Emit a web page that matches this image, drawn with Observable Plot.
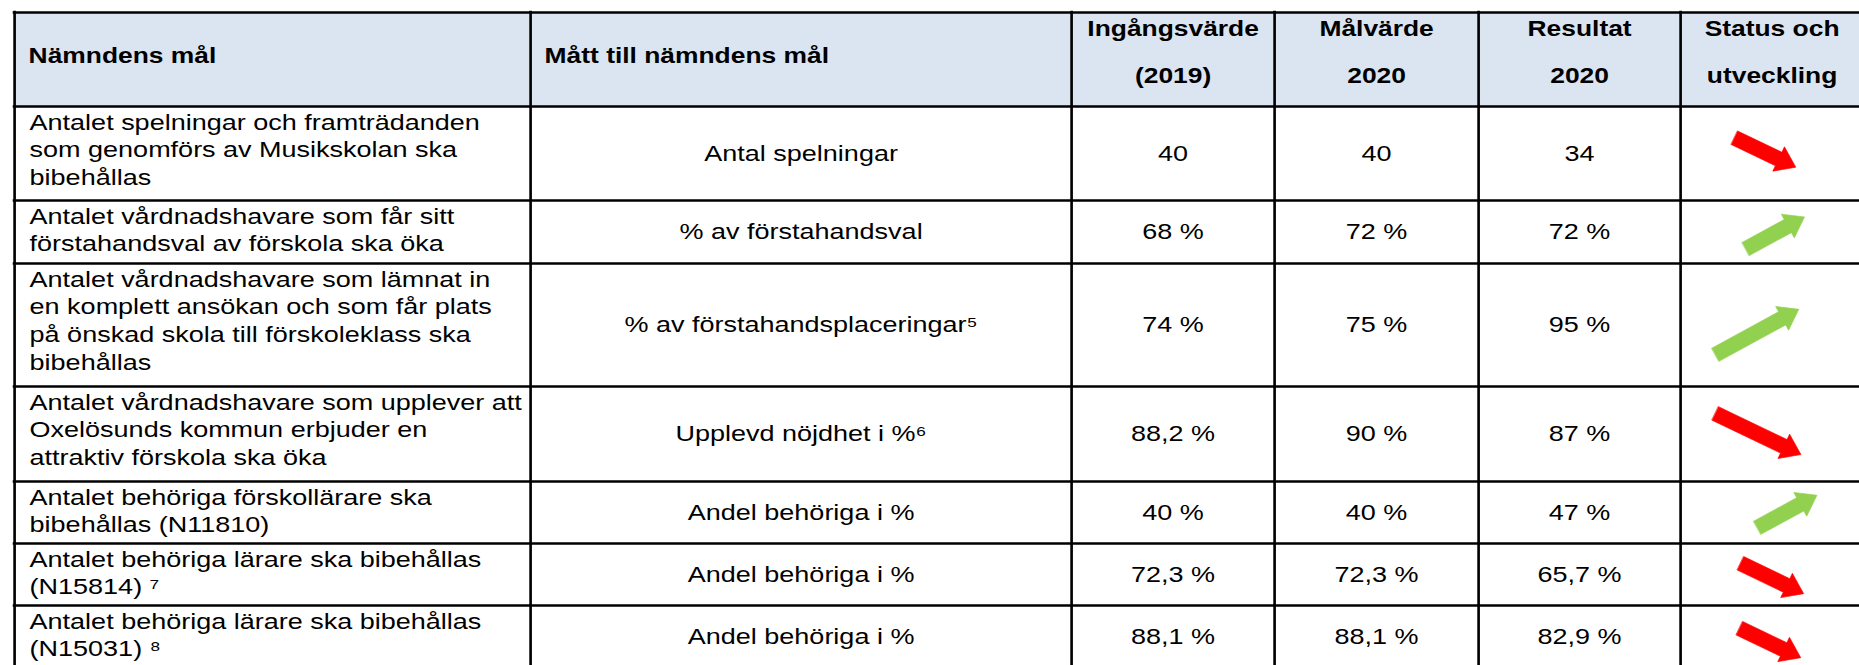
<!DOCTYPE html>
<html>
<head>
<meta charset="utf-8">
<script src="https://cdn.jsdelivr.net/npm/d3@7"></script>
<script src="https://cdn.jsdelivr.net/npm/@observablehq/plot@0.6"></script>
<style>
  html, body { margin: 0; padding: 0; background: #fff; overflow: hidden; }
</style>
</head>
<body>
<div id="chart"></div>
<script>
// ---------- DATA ----------
const headers = [
  "Nämndens mål",
  "Mått till nämndens mål",
  "Ingångsvärde\n(2019)",
  "Målvärde\n2020",
  "Resultat\n2020",
  "Status och\nutveckling"
];
const goals = [
  "Antalet spelningar och framträdanden\nsom genomförs av Musikskolan ska\nbibehållas",
  "Antalet vårdnadshavare som får sitt\nförstahandsval av förskola ska öka",
  "Antalet vårdnadshavare som lämnat in\nen komplett ansökan och som får plats\npå önskad skola till förskoleklass ska\nbibehållas",
  "Antalet vårdnadshavare som upplever att\nOxelösunds kommun erbjuder en\nattraktiv förskola ska öka",
  "Antalet behöriga förskollärare ska\nbibehållas (N11810)",
  "Antalet behöriga lärare ska bibehållas\n(N15814) ⁷",
  "Antalet behöriga lärare ska bibehållas\n(N15031) ⁸"
];
const measures = [
  "Antal spelningar",
  "% av förstahandsval",
  "% av förstahandsplaceringar⁵",
  "Upplevd nöjdhet i %⁶",
  "Andel behöriga i %",
  "Andel behöriga i %",
  "Andel behöriga i %"
];
const baseline2019 = ["40", "68 %", "74 %", "88,2 %", "40 %", "72,3 %", "88,1 %"];
const target2020   = ["40", "72 %", "75 %", "90 %", "40 %", "72,3 %", "88,1 %"];
const result2020   = ["34", "72 %", "95 %", "87 %", "47 %", "65,7 %", "82,9 %"];
const trend        = ["down", "up", "up", "down", "up", "down", "down"];

// ---------- LAYOUT / STYLE ----------
const W = 1859, H = 665, S = 1.2, Wi = W / S;
const colEdges = [14, 530, 1071, 1274, 1478, 1680, 1863];
const rowEdges = [12, 106, 200, 263, 386, 481, 543, 605, 667];
const FONT = "'Liberation Sans', Arial, Helvetica, sans-serif";
const bodyFont = 22.5, headFont = 22;
const bodyLH = 28 / bodyFont;          // line height in em
const headLH = 47 / headFont;
const firstBaseline = 23;              // from the top of a row
const headerFill = "#dbe5f1";
const trendColor = {up: "#92d050", down: "#ff0000"};
const trendSlope = {up: -0.545, down: 0.48};
const arrowLayout = [
  {dx: -7,  dy: -1,  len: 68},
  {dx: 3,   dy: 1,   len: 67},
  {dx: -15, dy: 7,   len: 95},
  {dx: -14, dy: 0,   len: 95},
  {dx: 15,  dy: -1,  len: 68},
  {dx: 0,   dy: 4,   len: 70},
  {dx: -2,  dy: 6.5, len: 68}
];
const shaftHalf = 7.5, headHalf = 13.5, headLen = 19;

const colCenter = c => (colEdges[c] + colEdges[c + 1]) / 2;
const topFor = (baseline, fs, lh) => baseline - 0.71 * lh * fs;

const rows = goals.map((g, i) => ({
  i,
  top: rowEdges[i + 1],
  bottom: rowEdges[i + 2],
  cy: (rowEdges[i + 1] + rowEdges[i + 2]) / 2,
  goal: g,
  measure: measures[i],
  base: baseline2019[i],
  target: target2020[i],
  result: result2020[i],
  trend: trend[i]
}));

const headerCells = headers.map((h, c) => ({h, c, x1: colEdges[c], x2: colEdges[c + 1], y1: rowEdges[0], y2: rowEdges[1]}));

const xL = colEdges[0], xR = colEdges[colEdges.length - 1];
const hLines = rowEdges.map(y => ({y, x1: xL - 1.3, x2: xR}));
const vLines = colEdges.map(x => ({x, y1: rowEdges[0] - 1.3, y2: rowEdges[rowEdges.length - 1]}));

// value cells (columns 1..4)
const valueCells = [];
rows.forEach(r => {
  [r.measure, r.base, r.target, r.result].forEach((t, k) => {
    valueCells.push({text: t, x: colCenter(k + 1), y: r.cy});
  });
});

// block-arrow polygons
const arrowPts = [];
rows.forEach(r => {
  const a = arrowLayout[r.i];
  const cx = colCenter(5) + a.dx, cy = r.cy + a.dy;
  const s = trendSlope[r.trend];
  const n = Math.hypot(1, s);
  const ux = 1 / n, uy = s / n;      // direction
  const vx = -uy, vy = ux;           // perpendicular
  const tail = [cx - ux * a.len / 2, cy - uy * a.len / 2];
  const tip = [cx + ux * a.len / 2, cy + uy * a.len / 2];
  const neck = [tip[0] - ux * headLen, tip[1] - uy * headLen];
  const pts = [
    [tail[0] + vx * shaftHalf, tail[1] + vy * shaftHalf],
    [neck[0] + vx * shaftHalf, neck[1] + vy * shaftHalf],
    [neck[0] + vx * headHalf, neck[1] + vy * headHalf],
    tip,
    [neck[0] - vx * headHalf, neck[1] - vy * headHalf],
    [neck[0] - vx * shaftHalf, neck[1] - vy * shaftHalf],
    [tail[0] - vx * shaftHalf, tail[1] - vy * shaftHalf]
  ];
  pts.forEach(p => arrowPts.push({row: r.i, trend: r.trend, x: p[0], y: p[1]}));
});

const svg = Plot.plot({
  width: Wi,
  height: H,
  margin: 0,
  x: {type: "linear", domain: [0, W], range: [0, Wi], axis: null},
  y: {type: "linear", domain: [0, H], range: [0, H], axis: null},
  style: {fontFamily: FONT, background: "#fff", color: "#000"},
  marks: [
    Plot.rect(headerCells, {x1: "x1", x2: "x2", y1: "y1", y2: "y2", fill: headerFill}),
    Plot.line(arrowPts.filter(d => d.trend === "down"), {x: "x", y: "y", z: "row", fill: trendColor.down, stroke: trendColor.down, strokeWidth: 0.6, curve: "linear-closed"}),
    Plot.line(arrowPts.filter(d => d.trend === "up"), {x: "x", y: "y", z: "row", fill: trendColor.up, stroke: trendColor.up, strokeWidth: 0.6, curve: "linear-closed"}),
    // header texts, first two columns (left aligned)
    Plot.text(headerCells.filter(d => d.c < 2), {
      x: d => d.x1 + 14, y: () => 55, text: "h", textAnchor: "start",
      fontSize: headFont, fontWeight: "bold", fontFamily: FONT, fill: "#000"
    }),
    // header texts, remaining columns (two lines, centred)
    Plot.text(headerCells.filter(d => d.c >= 2), {
      x: d => (d.x1 + d.x2) / 2, y: () => topFor(36, headFont, headLH), text: "h",
      textAnchor: "middle", lineAnchor: "top", lineHeight: headLH,
      fontSize: headFont, fontWeight: "bold", fontFamily: FONT, fill: "#000"
    }),
    // goals column
    Plot.text(rows, {
      x: () => colEdges[0] + 15, y: d => topFor(d.top + firstBaseline, bodyFont, bodyLH), text: "goal",
      textAnchor: "start", lineAnchor: "top", lineHeight: bodyLH,
      fontSize: bodyFont, fontFamily: FONT, fill: "#000"
    }),
    // value cells
    Plot.text(valueCells, {
      x: "x", y: "y", text: "text", textAnchor: "middle", lineAnchor: "middle",
      fontSize: bodyFont, fontFamily: FONT, fill: "#000"
    }),
    Plot.ruleY(hLines, {y: "y", x1: "x1", x2: "x2", stroke: "#000", strokeWidth: 2.6}),
    Plot.ruleX(vLines, {x: "x", y1: "y1", y2: "y2", stroke: "#000", strokeWidth: 2.2})
  ]
});

svg.setAttribute("width", W);
svg.setAttribute("height", H);
svg.setAttribute("viewBox", `0 0 ${Wi} ${H}`);
svg.setAttribute("preserveAspectRatio", "none");
svg.style.width = W + "px";
svg.style.height = H + "px";
svg.style.maxWidth = "none";
svg.style.display = "block";
document.getElementById("chart").appendChild(svg);
</script>
</body>
</html>
